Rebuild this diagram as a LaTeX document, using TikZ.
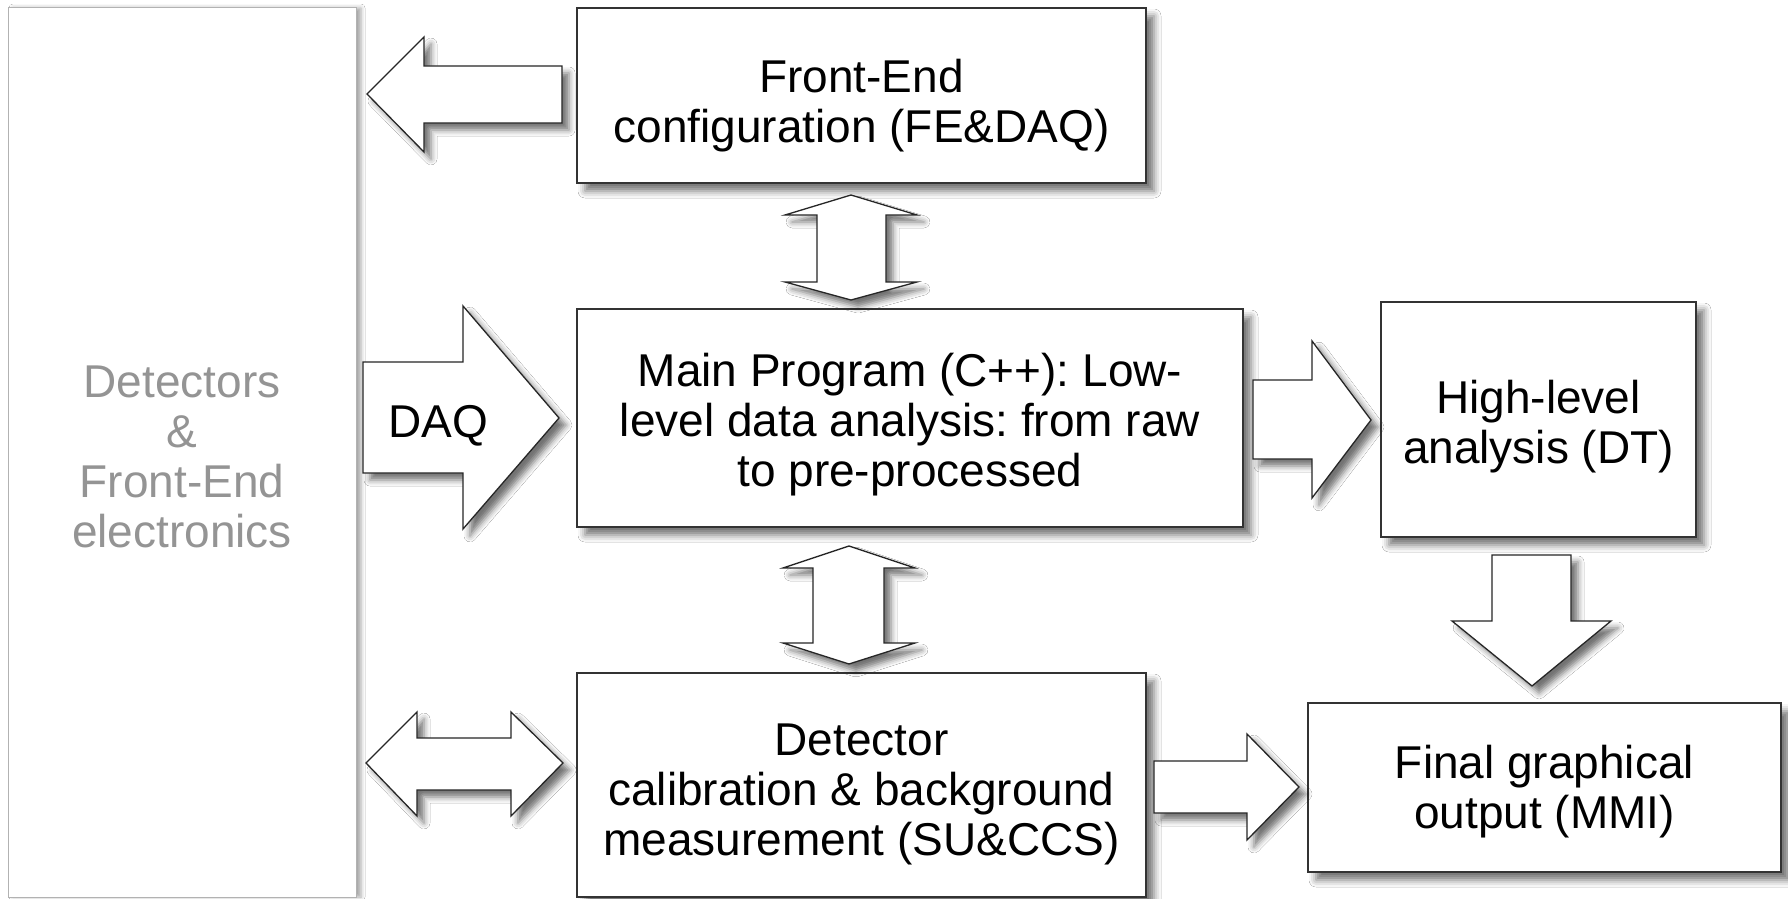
\documentclass[tikz,border=0pt]{standalone}
\usepackage{fontspec}
\setmainfont{Liberation Sans}
\usetikzlibrary{shadows.blur}
\frenchspacing
\begin{document}
\begin{tikzpicture}[x=1pt,y=-1pt,
  box/.style={draw=black!80, line width=1.5pt, fill=white, inner sep=0pt,
    blur shadow={shadow xshift=8pt, shadow yshift=-8pt, shadow blur radius=7pt, shadow opacity=55}},
  boxtext/.style={align=center, inner sep=0pt, font=\fontsize{46}{50}\selectfont},
  barrow/.style={draw=black!85, line width=1.3pt, fill=white, line join=miter,
    blur shadow={shadow xshift=7pt, shadow yshift=-7pt, shadow blur radius=6pt, shadow opacity=55}}]
\useasboundingbox (0,0) rectangle (1788,899);
\fill[white] (0,0) rectangle (1788,899);

% left detectors panel
\node[draw=black!30, line width=1pt, fill=white, inner sep=0pt,
  minimum width=348pt, minimum height=889pt,
  blur shadow={shadow xshift=5pt, shadow yshift=0pt, shadow blur radius=4pt, shadow opacity=35}]
  (det) at (182,452.5) {};
\node[boxtext, text=black!42, yshift=-4pt] (dett) at (det.center) {Detectors\\\&\\Front-End\\electronics};

% boxes
\node[box, minimum width=569pt, minimum height=175pt] (fe) at (861.5,95.5) {};
\node[boxtext, yshift=-10pt] (fet) at (fe.center) {Front-End\\configuration (FE\&DAQ)};
\node[box, minimum width=666pt, minimum height=218pt] (main) at (910,418) {};
\node[boxtext, yshift=-7pt] (maint) at (main.center) {Main Program (C++): Low-\\level data analysis: from raw\\to pre-processed};
\node[box, minimum width=315pt, minimum height=235pt] (high) at (1538.5,419.5) {};
\node[boxtext, yshift=-7pt] (hight) at (high.center) {High-level\\analysis (DT)};
\node[box, minimum width=569pt, minimum height=224pt] (cal) at (861.5,785) {};
\node[boxtext, yshift=-9pt] (calt) at (cal.center) {Detector\\calibration \& background\\measurement (SU\&CCS)};
\node[box, minimum width=473pt, minimum height=169pt] (fin) at (1544.5,787.5) {};
\node[boxtext, yshift=-4pt] (fint) at (fin.center) {Final graphical\\output (MMI)};

% block arrows
\path[barrow] (562,66) -- (424,66) -- (424,37) -- (367,94) -- (424,152) -- (424,123) -- (562,123) -- cycle;
\path[barrow] (851,195) -- (917,215) -- (886,215) -- (886,282) -- (917,282) -- (851,300) -- (785,282) -- (817,282) -- (817,215) -- (785,215) -- cycle;
\path[barrow] (363,362) -- (463,362) -- (463,306) -- (559,418) -- (463,529) -- (463,473) -- (363,473) -- cycle;
\path[barrow] (849,546) -- (915,568) -- (884,568) -- (884,643) -- (915,643) -- (849,664) -- (783,643) -- (813,643) -- (813,568) -- (783,568) -- cycle;
\path[barrow] (1253,380) -- (1312,380) -- (1312,341) -- (1371,420) -- (1312,498) -- (1312,459) -- (1253,459) -- cycle;
\path[barrow] (1492,555) -- (1571,555) -- (1571,621) -- (1611,621) -- (1532,686) -- (1452,621) -- (1492,621) -- cycle;
\path[barrow] (366,763) -- (417,712) -- (417,738) -- (511,738) -- (511,712) -- (563,763) -- (511,816) -- (511,790) -- (417,790) -- (417,816) -- cycle;
\path[barrow] (1154,761) -- (1247,761) -- (1247,734) -- (1299,787) -- (1247,840) -- (1247,813) -- (1154,813) -- cycle;

\node[anchor=base, inner sep=0pt, font=\fontsize{46}{50}\selectfont] (daq) at (438,437) {DAQ};
\end{tikzpicture}
\end{document}
